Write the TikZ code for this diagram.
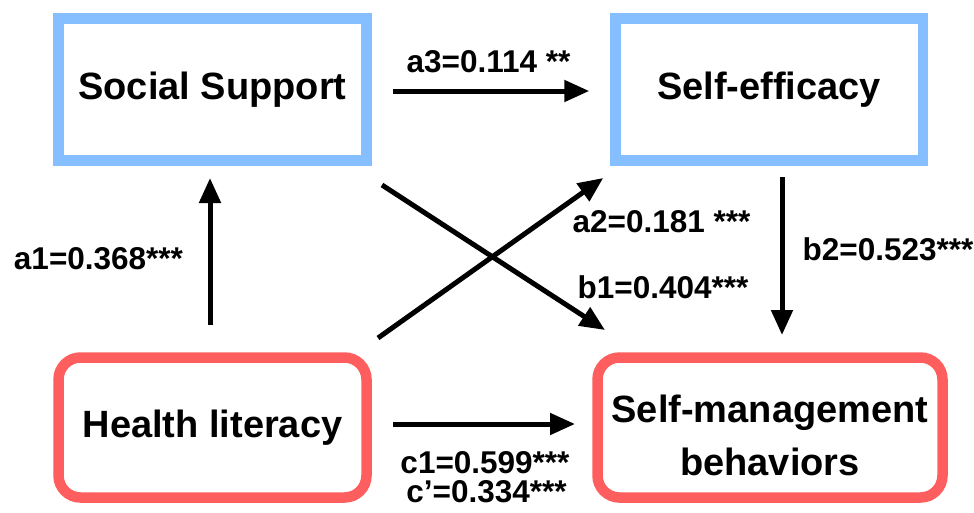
\documentclass[tikz,border=0pt]{standalone}
\usepackage{fontspec}
\setmainfont{Liberation Sans}
\usetikzlibrary{arrows.meta,calc}
\definecolor{boxblue}{RGB}{133,191,255}
\definecolor{boxred}{RGB}{255,94,94}
\begin{document}
\begin{tikzpicture}[x=1pt,y=-1pt,
  varbox/.style={draw, line width=10.5pt, minimum width=308pt, minimum height=142pt,
    inner sep=0pt, outer sep=0pt, align=center,
    font=\fontsize{38}{53}\selectfont\bfseries},
  mediator/.style={varbox, draw=boxblue},
  endpoint/.style={varbox, draw=boxred, rounded corners=22pt, minimum height=140pt},
  effect/.style={line width=5pt, -{Triangle[length=25pt,width=21pt]}},
  coef/.style={anchor=base, inner sep=0pt, font=\fontsize{31.5}{36}\selectfont\bfseries}]
\fill[white] (0,0) rectangle (974,512);
\useasboundingbox (0,0) rectangle (974,512);

% variables
\node[mediator] (ss) at (212.5,89.5) {Social Support};
\node[mediator, minimum width=307.5pt] (se) at (769,89.5) {Self-efficacy};
\node[endpoint] (hl) at (212.5,427.5) {Health literacy};
\node[endpoint, minimum width=345pt] (sm) at (770,427.5)
  {\rule{0pt}{42.7pt}Self-management\\behaviors};

% paths
\draw[effect] ($(ss.east)+(26.5,1.5)$) -- ($(se.west)+(-26,1.5)$);
\draw[effect] ($(hl.north)+(-2.5,-32.5)$) -- ($(ss.south)+(-2.5,17.5)$);
\draw[effect] ($(se.south)+(13,16.5)$) -- ($(sm.north)+(12,-22.5)$);
\draw[effect] ($(hl.east)+(26.5,-3.5)$) -- ($(sm.west)+(-22.5,-3.5)$);
\draw[effect] ($(hl.north east)+(11.5,-19.5)$) -- ($(se.south west)+(-12,17.5)$);
\draw[effect] ($(ss.south east)+(15.5,24.5)$) -- ($(sm.north west)+(7.5,-27.5)$);

% coefficients
\node[coef] (la3) at (488.5,72) {a3=0.114 **};
\node[coef] (la1) at (98.5,269) {a1=0.368***};
\node[coef] (la2) at (661.5,232) {a2=0.181 ***};
\node[coef] (lb1) at (663,298) {b1=0.404***};
\node[coef] (lb2) at (888,260) {b2=0.523***};
\node[coef] (lc1) at (485,473) {c1=0.599***};
\node[coef] (lc2) at (486.5,502) {c’=0.334***};
\end{tikzpicture}
\end{document}
